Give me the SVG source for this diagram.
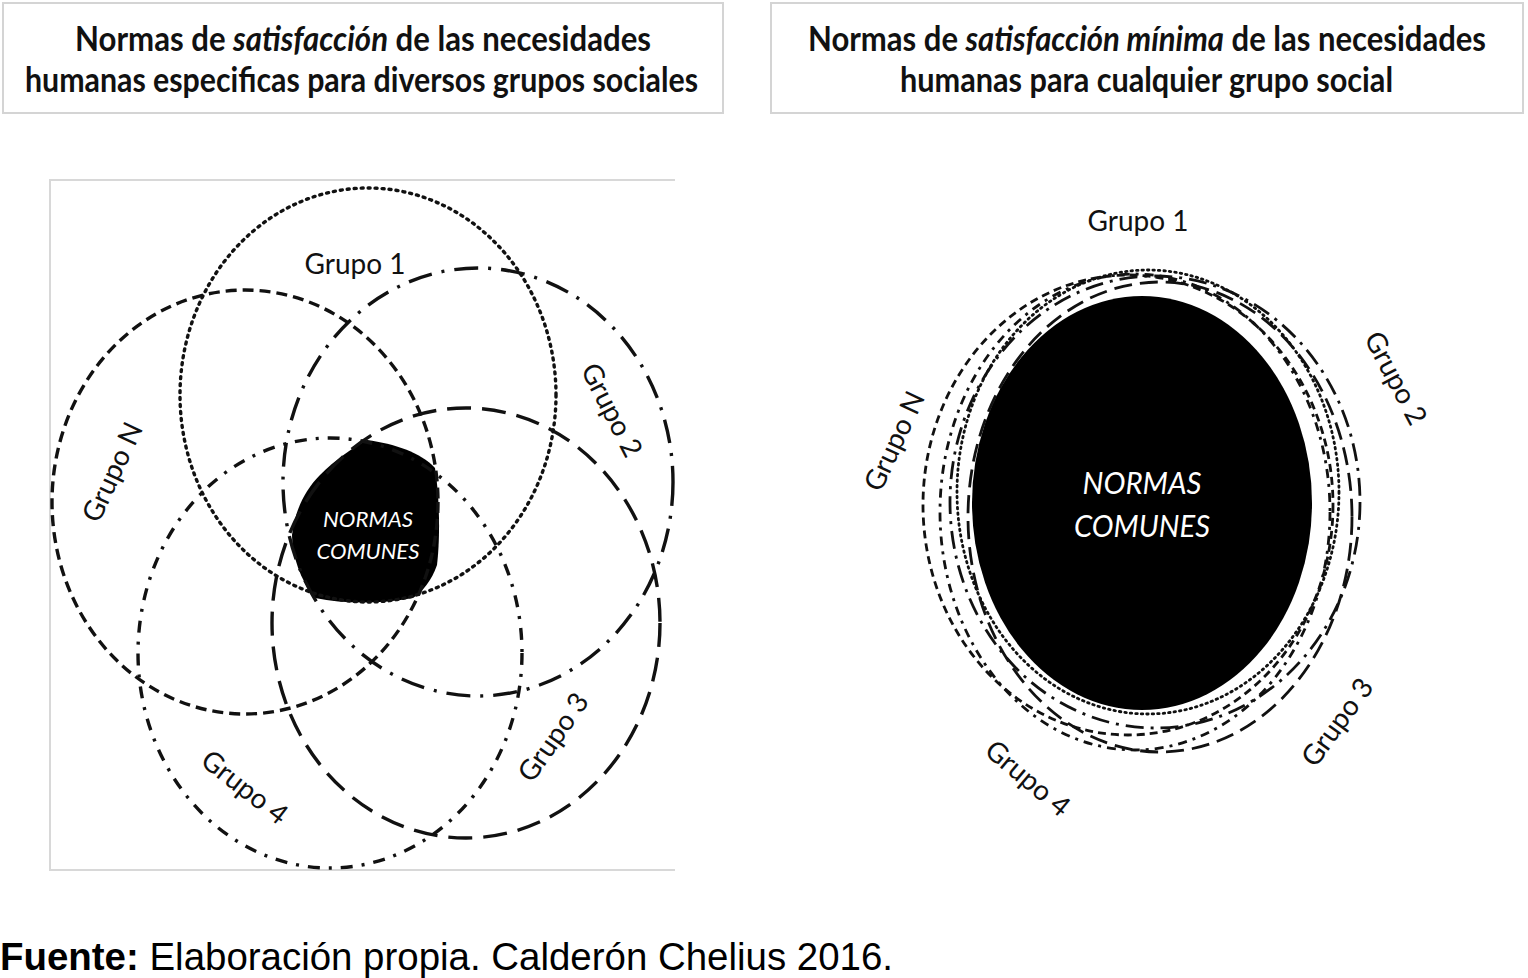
<svg xmlns="http://www.w3.org/2000/svg" width="1528" height="978" viewBox="0 0 1528 978">
<style>
.title{font-family:Lato,"Open Sans","Liberation Sans",sans-serif;font-weight:bold;font-size:34px;fill:#111}
.lbl{font-family:Lato,"Open Sans","Liberation Sans",sans-serif;font-size:28px;fill:#111;text-anchor:middle}
.norm{font-family:Lato,"Open Sans","Liberation Sans",sans-serif;font-style:italic;fill:#fff;text-anchor:middle}
.box{fill:#fff;stroke:#d4d4d4;stroke-width:2}
.ring{fill:none;stroke:#111;stroke-width:3.4}
.dot{stroke-dasharray:2 5;stroke-linecap:round;stroke-width:3.4}
.dash{stroke-dasharray:11 6}
.ldash{stroke-dasharray:24 11}
.ldd{stroke-dasharray:24 10 3 10}
.dd{stroke-dasharray:12 9 3 9}
.rr{stroke-width:2.8}
.rdash{stroke-dasharray:8 5}
.rdot{stroke-dasharray:1.5 4;stroke-linecap:round}
.rldash{stroke-dasharray:18 8}
.rldd{stroke-dasharray:18 7 3 7}
.rdd{stroke-dasharray:9 6 3 6}
</style>
<rect width="1528" height="978" fill="#fff"/>
<g id="title-left">
<rect class="box" x="3" y="3" width="720" height="110"/>
<text class="title" x="75" y="51" textLength="576" lengthAdjust="spacingAndGlyphs">Normas  de <tspan font-style="italic">satisfacción</tspan> de las necesidades</text>
<text class="title" x="25" y="92" textLength="673" lengthAdjust="spacingAndGlyphs">humanas especificas para diversos grupos sociales</text>
</g>
<g id="title-right">
<rect class="box" x="771" y="3" width="752" height="110"/>
<text class="title" x="808" y="51" textLength="678" lengthAdjust="spacingAndGlyphs">Normas de <tspan font-style="italic">satisfacción mínima</tspan> de las necesidades</text>
<text class="title" x="900" y="92" textLength="493" lengthAdjust="spacingAndGlyphs">humanas para cualquier grupo social</text>
</g>
<g id="left-frame">
<path d="M675,180 H50 V870 H675" fill="none" stroke="#d8d8d8" stroke-width="2"/>
</g>
<g id="left-normas-comunes">
<path d="M367,440 C395,444 420,452 435,468 C440,500 440,540 437,565 C432,580 422,592 413,598 C380,604 345,604 315,598 C300,580 292,555 292,535 C295,510 305,490 320,475 C335,460 352,448 367,440 Z" fill="#000"/>
<text class="norm" x="368" y="527" font-size="21" textLength="90" lengthAdjust="spacingAndGlyphs">NORMAS</text>
<text class="norm" x="368" y="559" font-size="21" textLength="103" lengthAdjust="spacingAndGlyphs">COMUNES</text>
</g>
<g id="left-connectors">
<ellipse id="l-grupo1" class="ring dot" cx="368" cy="395" rx="188" ry="207"/>
<ellipse id="l-grupoN" class="ring dash" cx="245" cy="502" rx="193" ry="212"/>
<ellipse id="l-grupo2" class="ring ldd" cx="478" cy="482" rx="195" ry="214"/>
<ellipse id="l-grupo3" class="ring ldash" cx="466" cy="623" rx="194" ry="215"/>
<ellipse id="l-grupo4" class="ring dd" cx="330" cy="653" rx="192" ry="215"/>
</g>
<g id="left-labels">
<text class="lbl" x="355" y="274">Grupo 1</text>
<text class="lbl" transform="translate(612,410) rotate(63)" y="10">Grupo 2</text>
<text class="lbl" transform="translate(112,472) rotate(-65)" y="10">Grupo N</text>
<text class="lbl" transform="translate(553,737) rotate(-55)" y="10">Grupo 3</text>
<text class="lbl" transform="translate(245,787) rotate(38)" y="10">Grupo 4</text>
</g>
<g id="right-normas-comunes">
<ellipse cx="1142" cy="503" rx="170" ry="207" fill="#000"/>
<text class="norm" x="1142" y="494" font-size="31" textLength="119" lengthAdjust="spacingAndGlyphs">NORMAS</text>
<text class="norm" x="1142" y="537" font-size="31" textLength="136" lengthAdjust="spacingAndGlyphs">COMUNES</text>
</g>
<g id="right-connectors">
<ellipse id="r-grupoN" class="ring rr rdash" cx="1128" cy="505" rx="205" ry="230"/>
<ellipse id="r-grupo1" class="ring rr rdot" cx="1148" cy="492" rx="191" ry="222"/>
<ellipse id="r-grupo2" class="ring rr rldd" cx="1155" cy="502" rx="205" ry="226"/>
<ellipse id="r-grupo3" class="ring rr rldash" cx="1160" cy="517" rx="192" ry="235"/>
<ellipse id="r-grupo4" class="ring rr rdd" cx="1135" cy="512" rx="195" ry="238"/>
</g>
<g id="right-labels">
<text class="lbl" x="1138" y="231">Grupo 1</text>
<text class="lbl" transform="translate(1396,378) rotate(62)" y="10">Grupo 2</text>
<text class="lbl" transform="translate(894,441) rotate(-65)" y="10">Grupo N</text>
<text class="lbl" transform="translate(1337,722) rotate(-54)" y="10">Grupo 3</text>
<text class="lbl" transform="translate(1028,778) rotate(40)" y="10">Grupo 4</text>
</g>
<g id="footer">
<text x="0" y="970" font-family="'Liberation Sans',Arial,sans-serif" font-size="38" fill="#000" textLength="893" lengthAdjust="spacingAndGlyphs"><tspan font-weight="bold">Fuente:</tspan> Elaboración propia. Calderón Chelius 2016.</text>
</g>
</svg>
